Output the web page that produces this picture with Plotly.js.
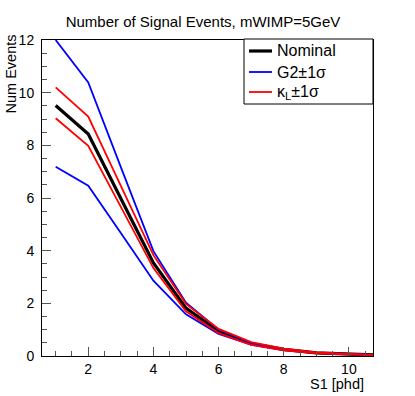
<!DOCTYPE html>
<html>
<head>
<meta charset="utf-8">
<script src="https://cdn.plot.ly/plotly-3.0.1.min.js"></script>
<style>html,body{margin:0;padding:0;background:#fff;}#chart{width:415px;height:396px;}</style>
</head>
<body>
<div id="chart"></div>
<script>
const s1 = [1, 2, 3, 4, 5, 6, 7, 8, 9, 10, 11];
const nominal  = [9.51, 8.43, 5.98, 3.53, 1.82, 0.94, 0.47, 0.25, 0.12, 0.06, 0.03];
const g2Up     = [12.0, 10.39, 7.17, 3.98, 2.02, 1.00, 0.50, 0.26, 0.13, 0.07, 0.03];
const g2Down   = [7.19, 6.47, 4.67, 2.86, 1.58, 0.84, 0.43, 0.22, 0.11, 0.05, 0.02];
const kappaUp  = [10.2, 9.09, 6.46, 3.83, 1.98, 1.03, 0.53, 0.28, 0.14, 0.07, 0.03];
const kappaDown= [9.03, 7.98, 5.66, 3.34, 1.70, 0.87, 0.42, 0.21, 0.10, 0.05, 0.02];
const legendNames = ['Nominal', 'G2\u00b11\u03c3', '\u03ba<sub>L</sub>\u00b11\u03c3'];
const legendColors = ['#000000', '#0000ff', '#ff0000'];
const legendWidths = [3.2, 1.8, 1.8];

const traces = [
  {x: s1, y: nominal, name: legendNames[0], mode: 'lines', line: {color: legendColors[0], width: legendWidths[0]}},
  {x: s1, y: g2Up, name: legendNames[1], mode: 'lines', line: {color: legendColors[1], width: legendWidths[1]}},
  {x: s1, y: g2Down, name: legendNames[1], mode: 'lines', line: {color: legendColors[1], width: legendWidths[1]}},
  {x: s1, y: kappaUp, name: legendNames[2], mode: 'lines', line: {color: legendColors[2], width: legendWidths[2]}},
  {x: s1, y: kappaDown, name: legendNames[2], mode: 'lines', line: {color: legendColors[2], width: legendWidths[2]}}
];

const font = 'Liberation Sans, Arial, Helvetica, sans-serif';
const L = 42, T = 40, W = 331, H = 316;
const px = v => (v - L) / W;
const py = v => (T + H - v) / H;

const shapes = [
  {type: 'rect', xref: 'paper', yref: 'paper', x0: px(244), x1: px(373), y0: py(104), y1: py(39),
   line: {color: '#000', width: 1}, fillcolor: '#fff', layer: 'above'}
];
const annotations = [
  {text: 'Num Events', textangle: -90, xref: 'paper', yref: 'paper',
   x: px(10), xanchor: 'center', y: py(33), yanchor: 'top',
   showarrow: false, font: {size: 14.5, family: font}},
  {text: 'S1 [phd]', xref: 'paper', yref: 'paper',
   x: px(366), xanchor: 'right', y: py(384), yanchor: 'middle',
   showarrow: false, font: {size: 14.5, family: font}}
];
const rowY = [51, 72, 92];
legendNames.forEach((name, i) => {
  shapes.push({type: 'line', xref: 'paper', yref: 'paper', x0: px(249), x1: px(272), y0: py(rowY[i]), y1: py(rowY[i]),
               line: {color: legendColors[i], width: legendWidths[i]}, layer: 'above'});
  annotations.push({text: name, xref: 'paper', yref: 'paper', x: px(275), xanchor: 'left',
                    y: py(rowY[i]), yanchor: 'middle', showarrow: false, font: {size: 16, family: font}});
});

const layout = {
  width: 415, height: 396,
  margin: {l: L, r: 415 - L - W, t: T, b: 396 - T - H},
  paper_bgcolor: '#fff', plot_bgcolor: '#fff',
  font: {family: font, color: '#000', size: 14},
  showlegend: false,
  title: {text: 'Number of Signal Events, mWIMP=5GeV', font: {size: 15, family: font, color: '#000'},
          xref: 'container', yref: 'container', x: 203/415, xanchor: 'center', y: 1 - 22/396, yanchor: 'middle'},
  xaxis: {
    range: [0.58, 10.74], showgrid: false, zeroline: false,
    showline: true, linecolor: '#000', linewidth: 1, mirror: true,
    ticks: 'inside', ticklen: 9, tickcolor: '#555', tickwidth: 1,
    tickmode: 'linear', tick0: 0, dtick: 2,
    tickfont: {size: 14},
    minor: {ticks: 'inside', ticklen: 5, dtick: 0.5, tick0: 0, tickcolor: '#555', showgrid: false}
  },
  yaxis: {
    range: [0, 12], showgrid: false, zeroline: false,
    showline: true, linecolor: '#000', linewidth: 1, mirror: true,
    ticks: 'inside', ticklen: 9, tickcolor: '#555', tickwidth: 1,
    tickmode: 'linear', tick0: 0, dtick: 2,
    tickfont: {size: 14}, ticklabelstandoff: 4,
    minor: {ticks: 'inside', ticklen: 5, dtick: 0.5, tick0: 0, tickcolor: '#555', showgrid: false}
  },
  shapes: shapes,
  annotations: annotations
};

Plotly.newPlot('chart', traces, layout, {displayModeBar: false, staticPlot: true});
</script>
</body>
</html>
